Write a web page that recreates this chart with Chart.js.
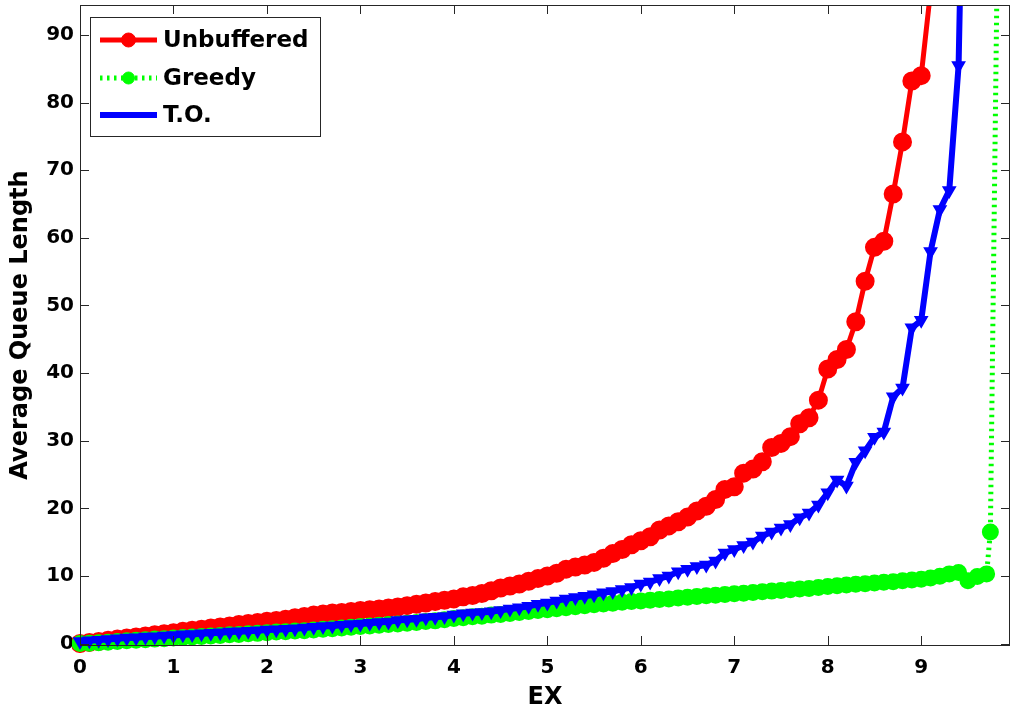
<!DOCTYPE html>
<html>
<head>
<meta charset="utf-8">
<script src="https://cdn.jsdelivr.net/npm/chart.js@4"></script>
<style>
  html, body { margin: 0; padding: 0; background: #fff; }
</style>
</head>
<body>
<canvas id="chart" width="1011" height="712"></canvas>
<script>
// EX values shared by the three curves (step 0.1)
var ex = [0.0,0.1,0.2,0.3,0.4,0.5,0.6,0.7,0.8,0.9,
          1.0,1.1,1.2,1.3,1.4,1.5,1.6,1.7,1.8,1.9,
          2.0,2.1,2.2,2.3,2.4,2.5,2.6,2.7,2.8,2.9,
          3.0,3.1,3.2,3.3,3.4,3.5,3.6,3.7,3.8,3.9,
          4.0,4.1,4.2,4.3,4.4,4.5,4.6,4.7,4.8,4.9,
          5.0,5.1,5.2,5.3,5.4,5.5,5.6,5.7,5.8,5.9,
          6.0,6.1,6.2,6.3,6.4,6.5,6.6,6.7,6.8,6.9,
          7.0,7.1,7.2,7.3,7.4,7.5,7.6,7.7,7.8,7.9,
          8.0,8.1,8.2,8.3,8.4,8.5,8.6,8.7,8.8,8.9,
          9.0,9.1,9.2,9.3,9.4,9.5,9.6,9.7];

var unbuffered = [0,0.15,0.3,0.5,0.65,0.8,0.95,1.1,1.3,1.45,
                  1.6,1.8,1.95,2.1,2.3,2.45,2.6,2.8,2.95,3.1,
                  3.3,3.4,3.6,3.8,4.0,4.2,4.35,4.5,4.6,4.75,
                  4.9,5.0,5.1,5.25,5.4,5.6,5.8,6.0,6.2,6.4,
                  6.6,6.9,7.1,7.4,7.8,8.2,8.5,8.8,9.2,9.6,
                  10.0,10.4,11.0,11.3,11.6,12.0,12.6,13.3,13.9,14.6,
                  15.2,15.8,16.8,17.4,18.0,18.7,19.6,20.3,21.3,22.8,
                  23.2,25.2,25.8,26.9,29.0,29.6,30.6,32.5,33.4,36.0,
                  40.6,42.0,43.5,47.6,53.6,58.6,59.5,66.5,74.2,83.2,
                  84.0,96.5];

var greedy = [0,0.05,0.1,0.2,0.3,0.4,0.5,0.55,0.65,0.7,
              0.8,0.9,0.95,1.05,1.1,1.2,1.3,1.35,1.45,1.5,
              1.6,1.7,1.75,1.85,1.9,2.0,2.1,2.2,2.3,2.4,
              2.5,2.6,2.7,2.8,2.9,3.0,3.1,3.25,3.35,3.5,
              3.7,3.8,3.95,4.05,4.2,4.3,4.45,4.6,4.75,4.9,
              5.0,5.15,5.3,5.45,5.6,5.75,5.85,5.95,6.1,6.2,
              6.3,6.4,6.5,6.6,6.75,6.85,6.95,7.05,7.15,7.25,
              7.35,7.45,7.55,7.65,7.75,7.85,7.95,8.05,8.15,8.3,
              8.45,8.55,8.65,8.75,8.85,8.95,9.05,9.15,9.3,9.4,
              9.5,9.7,9.95,10.3,10.5,9.3,9.9,10.3];
// last two Greedy points (off the 0.1 grid)
var greedyTailEx = [9.74, 9.9];
var greedyTail = [16.5, 200];

var timeOut = [0.3,0.4,0.5,0.6,0.7,0.8,0.85,0.95,1.0,1.1,
               1.2,1.3,1.35,1.45,1.5,1.6,1.7,1.75,1.8,1.9,
               2.0,2.05,2.1,2.2,2.3,2.4,2.5,2.6,2.7,2.8,
               2.9,3.0,3.1,3.2,3.4,3.5,3.6,3.8,3.9,4.0,
               4.2,4.4,4.5,4.6,4.7,4.9,5.1,5.3,5.5,5.8,
               6.0,6.3,6.6,6.8,7.0,7.2,7.5,7.7,8.0,8.3,
               8.8,9.1,9.6,10.0,10.6,11.0,11.4,11.6,12.2,13.4,
               13.9,14.5,15.0,15.9,16.5,17.1,17.6,18.6,19.3,20.5,
               22.3,24.2,23.3,26.8,28.5,30.5,31.3,36.5,37.8,46.7,
               47.8,58.0,64.2,67.0,85.5,155];

var xTicks = [0,1,2,3,4,5,6,7,8,9];
var yTicks = [0,10,20,30,40,50,60,70,80,90];

function toPoints(xs, ys) {
    return ys.map(function(v, i) { return {x: xs[i], y: v}; });
}

var fontFamily = '"DejaVu Sans", sans-serif';
var axisColor = '#262626';

// box round the plot and inward tick marks on all four sides
var framePlugin = {
    id: 'frame',
    afterDatasetsDraw: function(chart) {
        var ctx = chart.ctx, a = chart.chartArea;
        var xs = chart.scales.x, ys = chart.scales.y;
        var len = 9;
        ctx.save();
        ctx.strokeStyle = axisColor;
        ctx.lineWidth = 1;
        ctx.beginPath();
        xTicks.forEach(function(t) {
            var px = Math.round(xs.getPixelForValue(t)) + 0.5;
            ctx.moveTo(px, a.bottom); ctx.lineTo(px, a.bottom - len);
            ctx.moveTo(px, a.top); ctx.lineTo(px, a.top + len);
        });
        yTicks.forEach(function(t) {
            var py = Math.round(ys.getPixelForValue(t)) + 0.5;
            ctx.moveTo(a.left, py); ctx.lineTo(a.left + len, py);
            ctx.moveTo(a.right, py); ctx.lineTo(a.right - len, py);
        });
        ctx.stroke();
        ctx.strokeRect(a.left + 0.5, a.top + 0.5, a.right - a.left - 1, a.bottom - a.top);
        ctx.restore();
    }
};

// MATLAB style legend: line sample with marker, then label
var legendPlugin = {
    id: 'boxLegend',
    afterDraw: function(chart) {
        var ctx = chart.ctx;
        var ds = chart.data.datasets;
        var rows = [40, 78, 115];
        ctx.save();
        ctx.fillStyle = '#fff';
        ctx.fillRect(90, 17, 231, 120);
        ctx.strokeStyle = axisColor;
        ctx.lineWidth = 1;
        ctx.strokeRect(90.5, 17.5, 230, 119);
        ds.forEach(function(d, i) {
            var y = rows[i];
            ctx.save();
            ctx.strokeStyle = d.borderColor;
            ctx.lineWidth = d.borderWidth;
            ctx.setLineDash(d.borderDash || []);
            ctx.beginPath();
            ctx.moveTo(100, y); ctx.lineTo(157, y);
            ctx.stroke();
            ctx.setLineDash([]);
            ctx.fillStyle = d.pointBackgroundColor;
            ctx.strokeStyle = d.pointBorderColor;
            ctx.lineWidth = 1;
            Chart.helpers.drawPoint(ctx, {
                pointStyle: d.pointStyle,
                rotation: d.pointRotation || 0,
                radius: d.pointRadius,
                borderWidth: 1
            }, 128.5, y);
            ctx.restore();
            ctx.fillStyle = '#000';
            ctx.font = 'bold 23px ' + fontFamily;
            ctx.textBaseline = 'middle';
            ctx.textAlign = 'left';
            ctx.fillText(d.label, 163, y + 1);
        });
        ctx.restore();
    }
};

new Chart(document.getElementById('chart'), {
    type: 'line',
    data: {
        datasets: [{
            label: 'Unbuffered',
            data: toPoints(ex, unbuffered),
            borderColor: '#ff0000',
            backgroundColor: '#ff0000',
            pointBackgroundColor: '#ff0000',
            pointBorderColor: '#ff0000',
            borderWidth: 5,
            pointRadius: 7,
            pointStyle: 'circle',
            order: 2
        }, {
            label: 'Greedy',
            data: toPoints(ex, greedy).concat(toPoints(greedyTailEx, greedyTail)),
            borderColor: '#00ff00',
            backgroundColor: '#00ff00',
            pointBackgroundColor: '#00ff00',
            pointBorderColor: '#00ff00',
            borderWidth: 5,
            borderDash: [2.5, 4.5],
            pointRadius: 6,
            pointStyle: 'circle',
            order: 1
        }, {
            label: 'T.O.',
            data: toPoints(ex, timeOut),
            borderColor: '#0000ff',
            backgroundColor: '#0000ff',
            pointBackgroundColor: '#0000ff',
            pointBorderColor: '#0000ff',
            borderWidth: 6,
            pointRadius: 2.5,
            pointStyle: 'triangle',
            pointRotation: 180,
            order: 0
        }]
    },
    options: {
        responsive: false,
        animation: false,
        layout: { autoPadding: false, padding: { left: 0, right: 1, top: 5, bottom: 0 } },
        elements: { line: { tension: 0 } },
        datasets: { line: { clip: { left: 8, top: 0, right: 0, bottom: 8 } } },
        plugins: {
            legend: { display: false },
            tooltip: { enabled: false }
        },
        scales: {
            x: {
                type: 'linear',
                min: 0,
                max: 9.95,
                grid: { display: false, drawTicks: false },
                border: { display: false },
                ticks: {
                    stepSize: 1,
                    includeBounds: false,
                    padding: 11,
                    color: '#000',
                    font: { family: fontFamily, size: 20, weight: 'bold' }
                },
                title: {
                    display: true,
                    text: 'EX',
                    color: '#000',
                    padding: { top: 0, bottom: 0 },
                    font: { family: fontFamily, size: 24, weight: 'bold' }
                },
                afterFit: function(s) {
                    s.height = 67;
                    s.paddingLeft = 0;
                    s.paddingRight = 0;
                }
            },
            y: {
                min: -0.22,
                max: 94.45,
                grid: { display: false, drawTicks: false },
                border: { display: false },
                ticks: {
                    stepSize: 10,
                    includeBounds: false,
                    padding: 6,
                    color: '#000',
                    font: { family: fontFamily, size: 20, weight: 'bold' }
                },
                title: {
                    display: true,
                    text: 'Average Queue Length',
                    color: '#000',
                    padding: { top: 6, bottom: 0 },
                    font: { family: fontFamily, size: 24, weight: 'bold' }
                },
                afterFit: function(s) {
                    s.width = 80;
                    s.paddingTop = 0;
                    s.paddingBottom = 0;
                }
            }
        }
    },
    plugins: [framePlugin, legendPlugin]
});
</script>
</body>
</html>
